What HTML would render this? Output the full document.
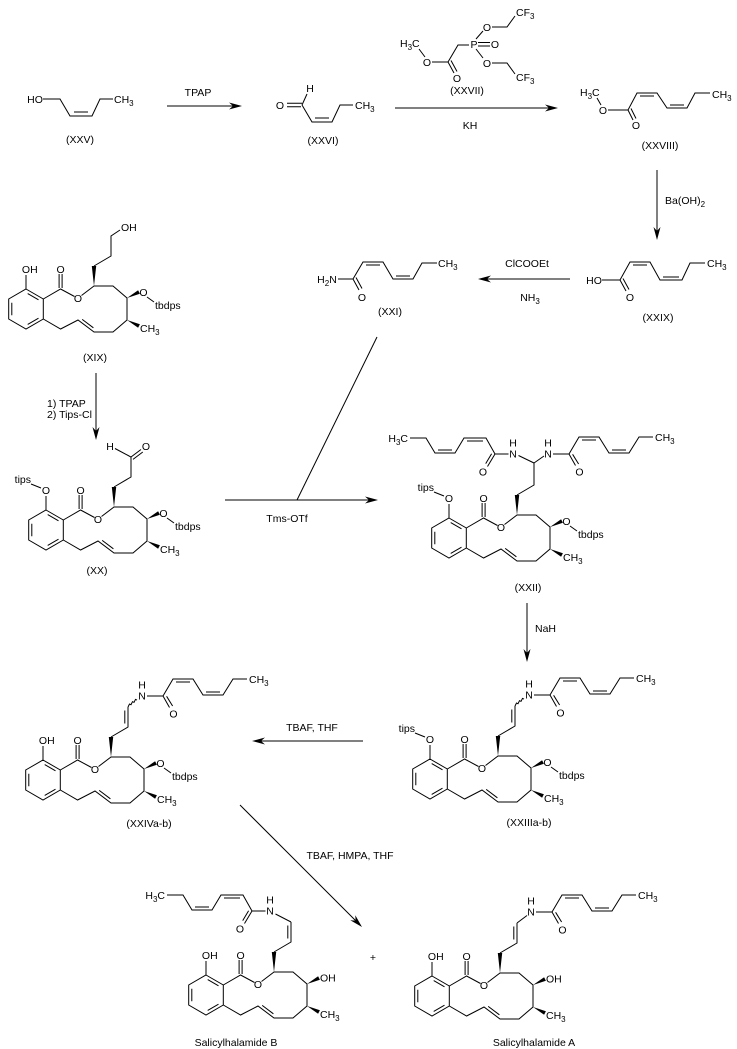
<!DOCTYPE html>
<html><head><meta charset="utf-8"><style>
html,body{margin:0;padding:0;background:#fff;}
svg{display:block;}
.l{stroke:#000;stroke-width:1;fill:none;}
text{fill:#000;font-family:"Liberation Sans",Arial,sans-serif;font-size:10.5px;}
.m{text-anchor:middle;}
.e{text-anchor:end;}
.s{font-size:8px;}
</style></head><body>
<svg width="737" height="1049" viewBox="0 0 737 1049" xmlns="http://www.w3.org/2000/svg" xmlns:xlink="http://www.w3.org/1999/xlink">
<defs>
<g id="mac">
 <g class="l">
  <polygon points="0,-20 17.3,-10 17.3,10 0,20 -17.3,10 -17.3,-10"/>
  <path d="M1.7,-15.4L12.5,-9.2M-14.2,-6.2L-14.2,6.2M12.5,9.2L1.7,15.4"/>
  <path d="M0,-20L0,-34"/>
  <path d="M17.3,-10L34.6,-20L48.5,-12.5M55.5,-13.5L68,-23L87,-23L101,-11L101,11L87,23L68,23L52,11L34.6,20L17.3,10"/>
  <path d="M33.1,-21L33.1,-35M36.1,-21L36.1,-35"/>
  <path d="M56.2,10.4L67.4,18.8"/>
 </g>
 <polygon points="68,-23 65.8,-43 70.2,-43" fill="#000"/>
 <polygon points="101,-11 112.1,-18.8 113.9,-15.2" fill="#000"/>
 <polygon points="101,11 113.9,15.2 112.1,18.8" fill="#000"/>
</g>
<g id="cA" class="l"><path d="M68,-43L85,-53L85,-73M81.8,-56.5L81.8,-69.5"/></g>
<g id="rA" class="l"><path d="M104,-84L120,-84L130,-101L150,-101L160,-85L180,-85L190,-101L204,-101M120,-84L126.5,-72.5M123.6,-83.7L129.6,-74M133,-98L147,-98M163,-88L177,-88"/></g>
<g id="lA" class="l"><path d="M59.5,-84L46,-84L37,-100L15,-100L6,-85L-14,-85L-23,-100L-39,-100M46,-84L38.5,-71.5M42.6,-84.3L36.7,-74.4M18,-97L34,-97M-11,-88L3,-88"/></g>
<path id="wavy" class="l" d="M85,-73l1.5,-3l1.5,0.7l1.5,-3l1.5,0.7l1.5,-3l1.5,0.7"/>
</defs>

<!-- XXV -->
<text class="m" x="35" y="103">HO</text>
<path class="l" d="M43,99L60,99L70,116L92,116L100,99L113,99M74,112L88,112"/>
<text x="114" y="103">CH<tspan class="s" dy="3">3</tspan></text>
<text class="m" x="80" y="143">(XXV)</text>

<!-- TPAP arrow -->
<path class="l" d="M167,106L234,106"/>
<polygon points="242,106 229,102.5 233,106 229,109.5"/>
<text class="m" x="198" y="96">TPAP</text>

<!-- XXVI -->
<text class="m" x="280" y="109">O</text>
<path class="l" d="M287,103.3L302,103.3M287,106.7L301,106.7M302,105L307,94M302,105L312,122L332,122L340,105L353,105M315,118L329,118"/>
<text class="m" x="310" y="92">H</text>
<text x="355" y="109">CH<tspan class="s" dy="3">3</tspan></text>
<text class="m" x="323" y="144">(XXVI)</text>

<!-- KH arrow -->
<path class="l" d="M395,108L550,108"/>
<polygon points="558,108 545,104.5 549,108 545,111.5"/>
<text class="m" x="470" y="129">KH</text>

<!-- XXVII -->
<text x="400" y="47">H<tspan class="s" dy="3">3</tspan><tspan dy="-3">C</tspan></text>
<path class="l" d="M419,49L425,57M432,62L448,62L458,45L469,45M448,62L454,73M451,60.5L457,71.5M478,42.5L490,42.5M478,46L490,46M476,39L483,31M492,27L507,27L515,16M476,49L483,58M492,63L507,63L515,74"/>
<text class="m" x="427" y="66">O</text>
<text class="m" x="457" y="82">O</text>
<text class="m" x="474" y="48">P</text>
<text class="m" x="495" y="48">O</text>
<text class="m" x="487" y="31">O</text>
<text class="m" x="487" y="67">O</text>
<text x="516" y="16">CF<tspan class="s" dy="3">3</tspan></text>
<text x="516" y="81">CF<tspan class="s" dy="3">3</tspan></text>
<text class="m" x="467" y="94">(XXVII)</text>

<!-- XXVIII -->
<text x="580" y="96">H<tspan class="s" dy="3">3</tspan><tspan dy="-3">C</tspan></text>
<path class="l" d="M597,98L601,105M608,110L628,110L637,93L657,93L667,108L687,108L695,93L710,93M628,110L633,120M631,108.5L636,118.5M640,96L654,96M670,105L684,105"/>
<text class="m" x="603" y="114">O</text>
<text class="m" x="636" y="129">O</text>
<text x="712" y="98">CH<tspan class="s" dy="3">3</tspan></text>
<text class="m" x="660" y="149">(XXVIII)</text>

<!-- Ba(OH)2 arrow -->
<path class="l" d="M657,170L657,232"/>
<polygon points="657,240 653.5,227 657,231 660.5,227"/>
<text x="665" y="204">Ba(OH)<tspan class="s" dy="3">2</tspan></text>

<!-- XXIX -->
<text class="m" x="594" y="284">HO</text>
<path class="l" d="M602,280L620,280L630,262L650,262L660,280L682,280L690,263L705,263M620,280L626,291M623,278.5L629,289.5M633,265L647,265M663,277L679,277"/>
<text class="m" x="630" y="301">O</text>
<text x="707" y="267">CH<tspan class="s" dy="3">3</tspan></text>
<text class="m" x="658" y="321">(XXIX)</text>

<!-- ClCOOEt arrow -->
<path class="l" d="M570,279L486,279"/>
<polygon points="478,279 491,275.5 487,279 491,282.5"/>
<text class="m" x="527" y="267">ClCOOEt</text>
<text class="m" x="530" y="301">NH<tspan class="s" dy="3">3</tspan></text>

<!-- XXI -->
<text class="m" x="327" y="283">H<tspan class="s" dy="3">2</tspan><tspan dy="-3">N</tspan></text>
<path class="l" d="M338,279L353,279L363,262L383,262L393,279L413,279L422,263L437,263M353,279L359,290M356,277.5L362,288.5M366,265L380,265M396,276L410,276"/>
<text class="m" x="362" y="301">O</text>
<text x="438" y="267">CH<tspan class="s" dy="3">3</tspan></text>
<text class="m" x="390" y="315">(XXI)</text>

<!-- line from XXI and Tms-OTf arrow -->
<path class="l" d="M377,337L297,500"/>
<path class="l" d="M225,500L370,500"/>
<polygon points="378,500 365,496.5 369,500 365,503.5"/>
<text class="m" x="287" y="522">Tms-OTf</text>

<!-- XIX -->
<g transform="translate(26,309)">
 <use xlink:href="#mac" href="#mac"/>
 <path class="l" d="M68,-43L85,-53L85,-73L94,-79"/>
 <text x="95" y="-78">OH</text>
 <text x="-4.1" y="-36">OH</text>
 <text class="m" x="34.6" y="-36">O</text>
 <text class="m" x="52" y="-6.8">O</text>
 <text class="m" x="117.5" y="-13">O</text><path class="l" d="M121,-12L128,-7"/><text x="129" y="0">tbdps</text>
 <text x="114" y="23">CH<tspan class="s" dy="3">3</tspan></text>
</g>
<text class="m" x="95" y="361">(XIX)</text>

<!-- XIX -> XX arrow -->
<path class="l" d="M96,373L96,432"/>
<polygon points="96,440 92.5,427 96,431 99.5,427"/>
<text x="47" y="407">1) TPAP</text>
<text x="47" y="418">2) Tips-Cl</text>

<!-- XX -->
<g transform="translate(46,530)">
 <use xlink:href="#mac" href="#mac"/>
 <path class="l" d="M68,-43L85,-53L85,-73L69,-81.5M85,-73L95,-80.5M87,-70.6L96.8,-78"/>
 <text class="m" x="64" y="-80">H</text>
 <text class="m" x="100" y="-80">O</text>
 <text class="m" x="0" y="-36">O</text><path class="l" d="M-15,-46L-5,-42"/><text class="e" x="-15" y="-47">tips</text>
 <text class="m" x="34.6" y="-36">O</text>
 <text class="m" x="52" y="-6.8">O</text>
 <text class="m" x="117.5" y="-13">O</text><path class="l" d="M121,-12L128,-7"/><text x="129" y="0">tbdps</text>
 <text x="114" y="23">CH<tspan class="s" dy="3">3</tspan></text>
</g>
<text class="m" x="97" y="574">(XX)</text>

<!-- XXII -->
<g transform="translate(449,538)">
 <use xlink:href="#mac" href="#mac"/>
 <path class="l" d="M68,-43L85,-53L85,-75L69.5,-82.5M85,-75L95,-82"/>
 <use xlink:href="#lA" href="#lA"/>
 <use xlink:href="#rA" href="#rA"/>
 <text class="m" x="64" y="-80.3">N</text><text class="m" x="64" y="-91.3">H</text>
 <text class="m" x="99" y="-80.3">N</text><text class="m" x="99" y="-91.3">H</text>
 <text class="m" x="34" y="-62.3">O</text>
 <text class="m" x="130.5" y="-62.3">O</text>
 <text class="e" x="-41" y="-96">H<tspan class="s" dy="3">3</tspan><tspan dy="-3">C</tspan></text>
 <text x="206" y="-97">CH<tspan class="s" dy="3">3</tspan></text>
 <text class="m" x="0" y="-36">O</text><path class="l" d="M-15,-46L-5,-42"/><text class="e" x="-15" y="-47">tips</text>
 <text class="m" x="34.6" y="-36">O</text>
 <text class="m" x="52" y="-6.8">O</text>
 <text class="m" x="117.5" y="-13">O</text><path class="l" d="M121,-12L128,-7"/><text x="129" y="0">tbdps</text>
 <text x="114" y="23">CH<tspan class="s" dy="3">3</tspan></text>
</g>
<text class="m" x="528" y="591">(XXII)</text>

<!-- NaH arrow -->
<path class="l" d="M527,603L527,654"/>
<polygon points="527,662 523.5,649 527,653 530.5,649"/>
<text x="535" y="632">NaH</text>

<!-- XXIII -->
<g transform="translate(430,779)">
 <use xlink:href="#mac" href="#mac"/>
 <use xlink:href="#cA" href="#cA"/>
 <use xlink:href="#wavy" href="#wavy"/>
 <use xlink:href="#rA" href="#rA"/>
 <text class="m" x="99" y="-80.3">N</text><text class="m" x="99" y="-91.3">H</text>
 <text class="m" x="130.5" y="-62.3">O</text>
 <text x="206" y="-97">CH<tspan class="s" dy="3">3</tspan></text>
 <text class="m" x="0" y="-36">O</text><path class="l" d="M-15,-46L-5,-42"/><text class="e" x="-15" y="-47">tips</text>
 <text class="m" x="34.6" y="-36">O</text>
 <text class="m" x="52" y="-6.8">O</text>
 <text class="m" x="117.5" y="-13">O</text><path class="l" d="M121,-12L128,-7"/><text x="129" y="0">tbdps</text>
 <text x="114" y="23">CH<tspan class="s" dy="3">3</tspan></text>
</g>
<text class="m" x="529" y="826">(XXIIIa-b)</text>

<!-- TBAF, THF arrow -->
<path class="l" d="M363,741L260,741"/>
<polygon points="252,741 265,737.5 261,741 265,744.5"/>
<text class="m" x="312" y="731">TBAF, THF</text>

<!-- XXIV -->
<g transform="translate(43,780)">
 <use xlink:href="#mac" href="#mac"/>
 <use xlink:href="#cA" href="#cA"/>
 <use xlink:href="#wavy" href="#wavy"/>
 <use xlink:href="#rA" href="#rA"/>
 <text class="m" x="99" y="-80.3">N</text><text class="m" x="99" y="-91.3">H</text>
 <text class="m" x="130.5" y="-62.3">O</text>
 <text x="206" y="-97">CH<tspan class="s" dy="3">3</tspan></text>
 <text x="-4.1" y="-36">OH</text>
 <text class="m" x="34.6" y="-36">O</text>
 <text class="m" x="52" y="-6.8">O</text>
 <text class="m" x="117.5" y="-13">O</text><path class="l" d="M121,-12L128,-7"/><text x="129" y="0">tbdps</text>
 <text x="114" y="23">CH<tspan class="s" dy="3">3</tspan></text>
</g>
<text class="m" x="149" y="827">(XXIVa-b)</text>

<!-- diagonal arrow -->
<path class="l" d="M240,805L356,921"/>
<polygon points="362,927 350.3,920.3 355.6,920.6 355.3,915.3"/>
<text class="m" x="350" y="859">TBAF, HMPA, THF</text>

<!-- Salicylhalamide B -->
<g transform="translate(206,995)">
 <use xlink:href="#mac" href="#mac"/>
 <use xlink:href="#cA" href="#cA"/>
 <path class="l" d="M85,-73L69.5,-81"/>
 <use xlink:href="#lA" href="#lA"/>
 <text class="m" x="64" y="-80.3">N</text><text class="m" x="64" y="-91.3">H</text>
 <text class="m" x="34" y="-62.3">O</text>
 <text class="e" x="-41" y="-96">H<tspan class="s" dy="3">3</tspan><tspan dy="-3">C</tspan></text>
 <text x="-4.1" y="-36">OH</text>
 <text class="m" x="34.6" y="-36">O</text>
 <text class="m" x="52" y="-6.8">O</text>
 <text x="114" y="-13.5">OH</text>
 <text x="114" y="23">CH<tspan class="s" dy="3">3</tspan></text>
</g>
<text class="m" x="236" y="1046">Salicylhalamide B</text>

<text class="m" x="373" y="961">+</text>

<!-- Salicylhalamide A -->
<g transform="translate(432,996)">
 <use xlink:href="#mac" href="#mac"/>
 <use xlink:href="#cA" href="#cA"/>
 <path class="l" d="M85,-73L95,-80.5"/>
 <use xlink:href="#rA" href="#rA"/>
 <text class="m" x="99" y="-80.3">N</text><text class="m" x="99" y="-91.3">H</text>
 <text class="m" x="130.5" y="-62.3">O</text>
 <text x="206" y="-97">CH<tspan class="s" dy="3">3</tspan></text>
 <text x="-4.1" y="-36">OH</text>
 <text class="m" x="34.6" y="-36">O</text>
 <text class="m" x="52" y="-6.8">O</text>
 <text x="114" y="-13.5">OH</text>
 <text x="114" y="23">CH<tspan class="s" dy="3">3</tspan></text>
</g>
<text class="m" x="534" y="1046">Salicylhalamide A</text>
</svg>
</body></html>
